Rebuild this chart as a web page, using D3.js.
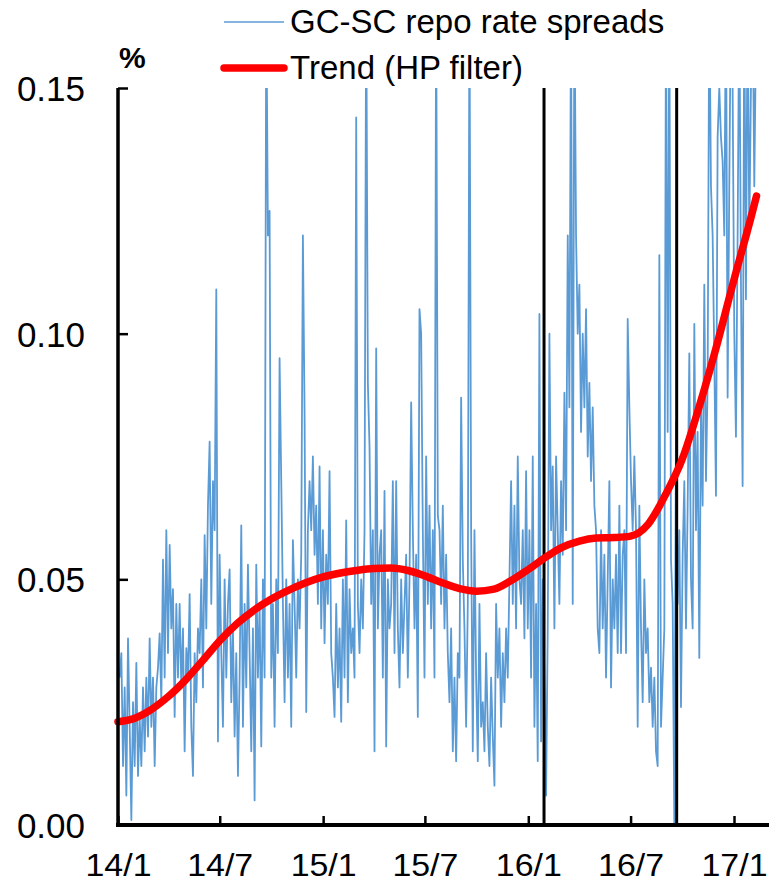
<!DOCTYPE html>
<html>
<head>
<meta charset="utf-8">
<script src="https://cdn.jsdelivr.net/npm/d3@7"></script>
<style>
  html, body { margin: 0; padding: 0; background: #fff; }
  svg { display: block; }
</style>
</head>
<body>
<svg id="chart" width="769" height="883"></svg>
<script>
// ---------------- DATA ----------------
// GC-SC repo rate spreads (%), evenly spaced from 2014-01-04 to 2017-02-12
const spreadStart = "2014-01-04";
const spreadEnd = "2017-02-12";
const spreads = [
  0.030, 0.035, 0.012, 0.028, 0.006, 0.038,
  0.020, 0.001, 0.025, 0.012, 0.033, 0.010,
  0.022, 0.012, 0.028, 0.015, 0.030, 0.018,
  0.038, 0.020, 0.030, 0.012, 0.028, 0.032,
  0.039, 0.025, 0.054, 0.030, 0.060, 0.035,
  0.057, 0.040, 0.048, 0.022, 0.045, 0.030,
  0.045, 0.028, 0.040, 0.015, 0.036, 0.030,
  0.047, 0.020, 0.010, 0.035, 0.025, 0.040,
  0.035, 0.050, 0.028, 0.059, 0.040, 0.065,
  0.078, 0.045, 0.070, 0.060, 0.109, 0.017,
  0.055, 0.035, 0.020, 0.050, 0.030, 0.045,
  0.052, 0.025, 0.040, 0.018, 0.035, 0.010,
  0.030, 0.061, 0.020, 0.045, 0.028, 0.053,
  0.035, 0.015, 0.040, 0.005, 0.053, 0.030,
  0.045, 0.016, 0.050, 0.030, 0.170, 0.120,
  0.125, 0.030, 0.045, 0.020, 0.050, 0.035,
  0.095, 0.070, 0.045, 0.025, 0.050, 0.030,
  0.045, 0.020, 0.058, 0.045, 0.030, 0.050,
  0.040, 0.055, 0.120, 0.084, 0.023, 0.060,
  0.070, 0.060, 0.075, 0.055, 0.065, 0.045,
  0.073, 0.040, 0.060, 0.037, 0.055, 0.045,
  0.072, 0.035, 0.030, 0.022, 0.045, 0.028,
  0.040, 0.021, 0.050, 0.030, 0.062, 0.025,
  0.048, 0.035, 0.040, 0.030, 0.144, 0.045,
  0.035, 0.050, 0.040, 0.060, 0.170, 0.090,
  0.077, 0.045, 0.060, 0.015, 0.097, 0.040,
  0.055, 0.060, 0.030, 0.068, 0.016, 0.050,
  0.040, 0.045, 0.070, 0.035, 0.070, 0.040,
  0.028, 0.050, 0.035, 0.045, 0.055, 0.030,
  0.050, 0.086, 0.060, 0.040, 0.055, 0.022,
  0.105, 0.100, 0.060, 0.030, 0.075, 0.045,
  0.065, 0.040, 0.060, 0.030, 0.170, 0.063,
  0.060, 0.045, 0.065, 0.040, 0.055, 0.035,
  0.025, 0.040, 0.015, 0.030, 0.013, 0.035,
  0.030, 0.087, 0.054, 0.040, 0.020, 0.045,
  0.170, 0.060, 0.015, 0.060, 0.030, 0.013,
  0.045, 0.020, 0.025, 0.015, 0.035, 0.020,
  0.012, 0.030, 0.018, 0.008, 0.045, 0.030,
  0.040, 0.020, 0.035, 0.025, 0.040, 0.030,
  0.050, 0.070, 0.045, 0.065, 0.040, 0.075,
  0.050, 0.045, 0.060, 0.038, 0.072, 0.040,
  0.060, 0.030, 0.075, 0.020, 0.045, 0.013,
  0.104, 0.017, 0.050, 0.030, 0.006, 0.040,
  0.100, 0.060, 0.073, 0.040, 0.075, 0.060,
  0.045, 0.070, 0.055, 0.088, 0.060, 0.120,
  0.085, 0.170, 0.045, 0.170, 0.120, 0.100,
  0.110, 0.080, 0.100, 0.085, 0.105, 0.075,
  0.090, 0.070, 0.085, 0.065, 0.060, 0.040,
  0.035, 0.060, 0.040, 0.055, 0.030, 0.050,
  0.070, 0.028, 0.050, 0.040, 0.055, 0.035,
  0.065, 0.035, 0.055, 0.060, 0.035, 0.103,
  0.085, 0.070, 0.060, 0.075, 0.060, 0.020,
  0.065, 0.040, 0.025, 0.050, 0.035, 0.040,
  0.025, 0.032, 0.020, 0.030, 0.015, 0.012,
  0.116, 0.020, 0.030, 0.040, 0.170, 0.080,
  0.170, 0.054, 0.045, 0.000, 0.082, 0.045,
  0.060, 0.024, 0.055, 0.070, 0.040, 0.065,
  0.096, 0.050, 0.040, 0.102, 0.060, 0.080,
  0.034, 0.085, 0.065, 0.110, 0.070, 0.090,
  0.170, 0.130, 0.120, 0.095, 0.067, 0.140,
  0.150, 0.140, 0.135, 0.120, 0.170, 0.087,
  0.130, 0.170, 0.150, 0.100, 0.079, 0.120,
  0.170, 0.110, 0.069, 0.170, 0.107, 0.170,
  0.120, 0.150, 0.170, 0.130, 0.160, 0.150
];

// HP-filter trend (%)
const trendDates = [
  "2014-01-01","2014-02-01","2014-03-01","2014-04-01","2014-05-01","2014-06-01",
  "2014-07-01","2014-08-01","2014-09-01","2014-10-01","2014-11-01","2014-12-01",
  "2015-01-01","2015-02-01","2015-03-01","2015-04-01","2015-05-01","2015-06-01",
  "2015-07-01","2015-08-01","2015-09-01","2015-10-01","2015-11-01","2015-12-01",
  "2016-01-01","2016-02-01","2016-03-01","2016-04-01","2016-05-01","2016-06-01",
  "2016-07-01","2016-08-01","2016-09-01","2016-10-01","2016-11-01","2016-12-01",
  "2017-01-01","2017-02-01","2017-02-10"
];
const trendValues = [
  0.0210, 0.0218, 0.0235, 0.0262, 0.0295, 0.0335,
  0.0375, 0.0410, 0.0438, 0.0460, 0.0478, 0.0493,
  0.0505, 0.0513, 0.0518, 0.0522, 0.0523, 0.0518,
  0.0507, 0.0493, 0.0481, 0.0476, 0.0480, 0.0497,
  0.0520, 0.0545, 0.0565, 0.0578, 0.0584, 0.0585,
  0.0588, 0.0612, 0.0672, 0.0745, 0.0855, 0.0975,
  0.1110, 0.1240, 0.1280
];

// Event markers (vertical lines)
const eventDates = ["2016-01-29", "2016-09-21"];

// Axis ticks
const xTickDates = ["2014-01-01","2014-07-01","2015-01-01","2015-07-01","2016-01-01","2016-07-01","2017-01-01"];
const xTickLabels = ["14/1","14/7","15/1","15/7","16/1","16/7","17/1"];
const yTickValues = [0, 0.05, 0.10, 0.15];

const seriesNames = ["GC-SC repo rate spreads", "Trend (HP filter)"];

// ---------------- CHART ----------------
const parse = d3.timeParse("%Y-%m-%d");
const svg = d3.select("#chart");

const plotLeft = 118, plotTop = 88, plotBottom = 825, plotRight = 769;

const x = d3.scaleTime()
  .domain([parse("2014-01-01"), parse("2017-01-01")])
  .range([118, 734]);
const y = d3.scaleLinear().domain([0, 0.15]).range([plotBottom, plotTop]);

const idxToDate = d3.scaleLinear()
  .domain([0, spreads.length - 1])
  .range([parse(spreadStart).getTime(), parse(spreadEnd).getTime()]);
const spreadData = spreads.map((v, i) => ({ date: new Date(idxToDate(i)), value: v }));
const trendData = trendDates.map((d, i) => ({ date: parse(d), value: trendValues[i] }));

svg.append("defs").append("clipPath").attr("id", "plotClip")
  .append("rect")
  .attr("x", plotLeft).attr("y", plotTop)
  .attr("width", plotRight - plotLeft).attr("height", plotBottom - plotTop);

// Blue series
svg.append("path")
  .datum(spreadData)
  .attr("clip-path", "url(#plotClip)")
  .attr("fill", "none")
  .attr("stroke", "#5b9bd5")
  .attr("stroke-width", 1.8)
  .attr("stroke-linejoin", "round")
  .attr("d", d3.line().x(d => x(d.date)).y(d => y(d.value)));

// Vertical event lines
svg.selectAll(".event")
  .data(eventDates)
  .enter().append("line")
  .attr("x1", d => x(parse(d))).attr("x2", d => x(parse(d)))
  .attr("y1", plotTop).attr("y2", plotBottom)
  .attr("stroke", "#000").attr("stroke-width", 3);

// Trend
svg.append("path")
  .datum(trendData)
  .attr("fill", "none")
  .attr("stroke", "#ff0000")
  .attr("stroke-width", 7.5)
  .attr("stroke-linecap", "round")
  .attr("stroke-linejoin", "round")
  .attr("d", d3.line().curve(d3.curveMonotoneX).x(d => x(d.date)).y(d => y(d.value)));

// Y axis
const yAxis = svg.append("g")
  .attr("transform", `translate(${plotLeft},0)`)
  .call(d3.axisLeft(y).tickValues(yTickValues).tickSize(-10).tickPadding(33).tickFormat(d3.format(".2f")));
yAxis.select(".domain").remove();
yAxis.selectAll(".tick line").attr("stroke", "#000").attr("stroke-width", 2.5);
yAxis.selectAll(".tick text")
  .attr("font-family", "'Liberation Sans', Arial, sans-serif")
  .attr("font-size", 35).attr("fill", "#000").attr("dy", "0.36em");
svg.append("line")
  .attr("x1", plotLeft).attr("x2", plotLeft)
  .attr("y1", plotTop).attr("y2", plotBottom + 2)
  .attr("stroke", "#000").attr("stroke-width", 3.5);

// X axis
const xAxis = svg.append("g")
  .attr("transform", `translate(0,${plotBottom})`)
  .call(d3.axisBottom(x)
    .tickValues(xTickDates.map(parse))
    .tickSize(-9)
    .tickFormat((d, i) => xTickLabels[i]));
xAxis.select(".domain").remove();
xAxis.selectAll(".tick line").attr("stroke", "#000").attr("stroke-width", 2.5);
xAxis.selectAll(".tick text")
  .attr("font-family", "'Liberation Sans', Arial, sans-serif")
  .attr("font-size", 31)
  .attr("fill", "#000")
  .attr("y", 51).attr("dy", 0)
  .attr("textLength", 66)
  .attr("lengthAdjust", "spacingAndGlyphs");
svg.append("line")
  .attr("x1", plotLeft - 2).attr("x2", plotRight)
  .attr("y1", plotBottom).attr("y2", plotBottom)
  .attr("stroke", "#000").attr("stroke-width", 4);

// Unit label
svg.append("text")
  .attr("x", 119).attr("y", 68)
  .attr("font-family", "'Liberation Sans', Arial, sans-serif")
  .attr("font-size", 30).attr("font-weight", "bold")
  .text("%");

// Legend
const legend = svg.append("g");
legend.append("line")
  .attr("x1", 224).attr("x2", 284).attr("y1", 22).attr("y2", 22)
  .attr("stroke", "#5b9bd5").attr("stroke-width", 1.4);
legend.append("line")
  .attr("x1", 224).attr("x2", 284).attr("y1", 68).attr("y2", 68)
  .attr("stroke", "#ff0000").attr("stroke-width", 7.5).attr("stroke-linecap", "round");
legend.selectAll(".ltext")
  .data(seriesNames)
  .enter().append("text")
  .attr("x", 290)
  .attr("y", (d, i) => 33 + i * 46)
  .attr("font-family", "'Liberation Sans', Arial, sans-serif")
  .attr("font-size", 33)
  .attr("fill", "#000")
  .text(d => d);
</script>
</body>
</html>
